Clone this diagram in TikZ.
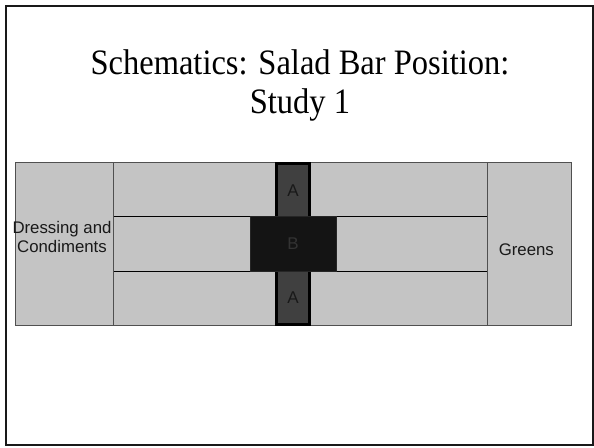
\documentclass[tikz,border=0pt]{standalone}
\usepackage{fontspec}
\setmainfont{Liberation Serif}
\setsansfont{Liberation Sans}
\definecolor{bargray}{HTML}{C4C4C4}
\definecolor{edgegray}{HTML}{505050}
\definecolor{adark}{HTML}{404040}
\definecolor{bdark}{HTML}{141414}
\definecolor{btext}{HTML}{333333}
\begin{document}
\begin{tikzpicture}[x=1pt,y=-1pt,
  frame/.style={draw=black!90, line width=2pt},
  barbox/.style={rectangle, fill=bargray, draw=edgegray, line width=0.8pt, inner sep=0pt, outer sep=0pt},
  sepline/.style={draw=black, line width=0.9pt},
  abox/.style={rectangle, fill=adark, draw=black, line width=3pt, inner sep=0pt, minimum width=33pt, text=black!90, font=\sffamily\fontsize{17}{20}\selectfont},
  bbox/.style={rectangle, fill=bdark, draw=black!85, line width=1pt, inner sep=0pt, minimum width=86pt, minimum height=55pt, text=btext, font=\sffamily\fontsize{17}{20}\selectfont},
  label/.style={font=\sffamily\fontsize{16.8}{19}\selectfont, inner sep=0pt, text=black!90, align=center},
  titletext/.style={font=\fontsize{32.5}{39}\selectfont, inner sep=0pt, anchor=base}
]
\useasboundingbox (0,0) rectangle (594,447);
\fill[white] (0,0) rectangle (594,447);
\draw[frame] (6,6) rectangle (593,445);

% title
\node[titletext] (title1) at (300,74.3) {\scalebox{1}[1.1]{Schematics: Salad Bar Position:}};
\node[titletext] (title2) at (300,113.3) {\scalebox{1}[1.1]{Study 1}};

% bar blocks
\node[barbox, minimum width=98.5pt, minimum height=162.3pt] (dress) at (64.25,243.85) {};
\node[barbox, minimum width=84.4pt, minimum height=162.3pt] (greensbox) at (529.5,243.85) {};
\node[barbox, minimum width=373.8pt, minimum height=53.6pt] (row1) at (300.4,189.5) {};
\node[barbox, minimum width=373.8pt, minimum height=55pt] (row2) at (300.4,243.8) {};
\node[barbox, minimum width=373.8pt, minimum height=53.7pt] (row3) at (300.4,298.15) {};
\draw[sepline] (row1.south west) -- (row1.south east);
\draw[sepline] (row3.north west) -- (row3.north east);

% labels
\node[label] (dresstext) at (62,237) {Dressing and\\Condiments};
\node[label] (greenstext) at (526.3,250.2) {Greens};

% positions
\node[abox, minimum height=54.2pt] (atop) at (293,190.9) {A};
\node[abox, minimum height=54.5pt] (abot) at (293,297.25) {A};
\node[bbox] (b) at (293,243.8) {B};
\end{tikzpicture}
\end{document}
